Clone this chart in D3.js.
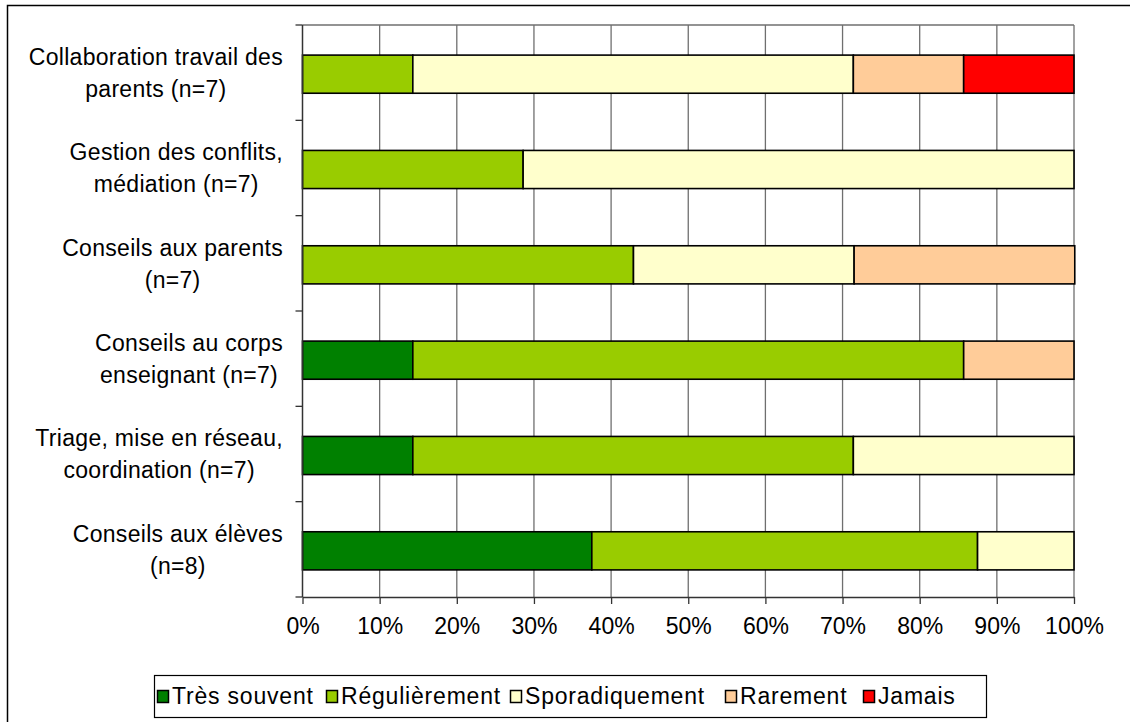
<!DOCTYPE html>
<html>
<head>
<meta charset="utf-8">
<script src="https://cdn.jsdelivr.net/npm/d3@7"></script>
<style>
  body { margin: 0; background: #fff; }
  svg { display: block; font-family: "Liberation Sans", Arial, sans-serif; }
  .label { font-size: 23px; fill: #000; letter-spacing: 0.3px; }
  .legend-label { font-size: 23px; fill: #000; letter-spacing: 0.8px; }
</style>
</head>
<body>
<svg class="chart" width="1130" height="722"></svg>
<script>
const categories = [
  ['Collaboration travail des', 'parents (n=7)'],
  ['Gestion des conflits,', 'médiation (n=7)'],
  ['Conseils aux parents', '(n=7)'],
  ['Conseils au corps', 'enseignant (n=7)'],
  ['Triage, mise en réseau,', 'coordination (n=7)'],
  ['Conseils aux élèves', '(n=8)'],
];
const seriesNames = ['Très souvent', 'Régulièrement', 'Sporadiquement', 'Rarement', 'Jamais'];
const seriesColors = ['#008000', '#99cc00', '#ffffcc', '#ffcc99', '#ff0000'];
const tresSouvent = [0, 0, 0, 14.3, 14.3, 37.5];
const regulierement = [14.3, 28.6, 42.9, 71.4, 57.1, 50];
const sporadiquement = [57.1, 71.4, 28.6, 0, 28.6, 12.5];
const rarement = [14.3, 0, 28.6, 14.3, 0, 0];
const jamais = [14.3, 0, 0, 0, 0, 0];
const tickValues = [0, 10, 20, 30, 40, 50, 60, 70, 80, 90, 100];

const drawChart = () => {
  const svg = d3.select('.chart');
  const plot = { left: 302.5, right: 1074, top: 25, bottom: 597 };

  // outer frame (runs off the right and bottom edges)
  svg.append('rect')
    .attr('x', 7.5).attr('y', 5.5)
    .attr('width', 1140).attr('height', 740)
    .attr('fill', 'none').attr('stroke', '#000').attr('stroke-width', 1.5);

  const series = [tresSouvent, regulierement, sporadiquement, rarement, jamais];
  const rows = categories.map((c, i) => {
    const row = { idx: i };
    seriesNames.forEach((s, j) => { row[s] = series[j][i]; });
    return row;
  });
  const stacked = d3.stack().keys(seriesNames)(rows);

  const xScale = d3.scaleLinear().domain([0, 100]).range([plot.left, plot.right]);
  const yScale = d3.scaleBand()
    .domain(d3.range(categories.length))
    .range([plot.top, plot.bottom])
    .paddingInner(0.6)
    .paddingOuter(0.3);
  const step = yScale.step();

  // vertical gridlines
  svg.append('g')
    .selectAll('line')
    .data(tickValues.slice(1))
    .enter()
    .append('line')
    .attr('x1', d => xScale(d)).attr('x2', d => xScale(d))
    .attr('y1', plot.top).attr('y2', plot.bottom)
    .attr('stroke', '#6f6f6f').attr('stroke-width', 1.3);

  svg.append('line')
    .attr('x1', plot.left).attr('x2', plot.right)
    .attr('y1', plot.top).attr('y2', plot.top)
    .attr('stroke', '#6f6f6f').attr('stroke-width', 1.3);

  // bars
  svg.append('g')
    .selectAll('g')
    .data(stacked)
    .enter()
    .append('g')
    .attr('fill', (d, i) => seriesColors[i])
    .selectAll('rect')
    .data(d => d.filter(p => p[1] - p[0] > 0))
    .enter()
    .append('rect')
    .attr('x', d => xScale(d[0]))
    .attr('width', d => xScale(d[1]) - xScale(d[0]))
    .attr('y', d => yScale(d.data.idx) + 1.5)
    .attr('height', yScale.bandwidth())
    .attr('stroke', '#000')
    .attr('stroke-width', 1.6);

  // y axis with ticks at band boundaries
  const boundaries = d3.range(categories.length + 1).map(i => plot.top + i * step);
  svg.append('line')
    .attr('x1', plot.left).attr('x2', plot.left)
    .attr('y1', plot.top).attr('y2', plot.bottom)
    .attr('stroke', '#333').attr('stroke-width', 1.5);
  svg.append('g')
    .selectAll('line')
    .data(boundaries)
    .enter()
    .append('line')
    .attr('x1', plot.left - 7).attr('x2', plot.left)
    .attr('y1', d => d).attr('y2', d => d)
    .attr('stroke', '#333').attr('stroke-width', 1.3);

  // x axis
  const xAxis = d3.axisBottom(xScale)
    .tickValues(tickValues)
    .tickSize(7)
    .tickSizeOuter(0)
    .tickPadding(14)
    .tickFormat(d => `${d}%`);
  const xg = svg.append('g')
    .attr('transform', `translate(0, ${plot.bottom})`)
    .call(xAxis);
  xg.select('.domain').attr('stroke', '#333').attr('stroke-width', 1.5);
  xg.selectAll('.tick line').attr('stroke', '#333').attr('stroke-width', 1.3);
  xg.selectAll('.tick text')
    .attr('font-family', '"Liberation Sans", Arial, sans-serif')
    .attr('font-size', 23)
    .attr('fill', '#000');

  // category labels: block right aligned, lines centered inside it
  const labelRight = 283;
  categories.forEach((lines, i) => {
    const cy = plot.top + (i + 0.5) * step;
    const g = svg.append('g');
    const texts = lines.map((line, k) => g.append('text')
      .classed('label', true)
      .attr('y', cy + (k - 0.5) * 32)
      .attr('dy', '0.36em')
      .attr('text-anchor', 'middle')
      .text(line));
    const w = d3.max(texts, t => t.node().getComputedTextLength());
    texts.forEach(t => t.attr('x', labelRight - w / 2));
  });

  // legend
  const legend = svg.append('g');
  legend.append('rect')
    .attr('x', 154.5).attr('y', 675.5)
    .attr('width', 832).attr('height', 42)
    .attr('fill', '#fff').attr('stroke', '#000').attr('stroke-width', 1.2);
  const legendX = [157, 326, 510, 725, 863];
  seriesNames.forEach((name, i) => {
    legend.append('rect')
      .attr('x', legendX[i] + 0.5).attr('y', 690.5)
      .attr('width', 11).attr('height', 12)
      .attr('fill', seriesColors[i])
      .attr('stroke', '#000').attr('stroke-width', 1.5);
    legend.append('text')
      .classed('legend-label', true)
      .attr('x', legendX[i] + 15)
      .attr('y', 696)
      .attr('dy', '0.36em')
      .text(name);
  });
};

window.onload = drawChart;
</script>
</body>
</html>
